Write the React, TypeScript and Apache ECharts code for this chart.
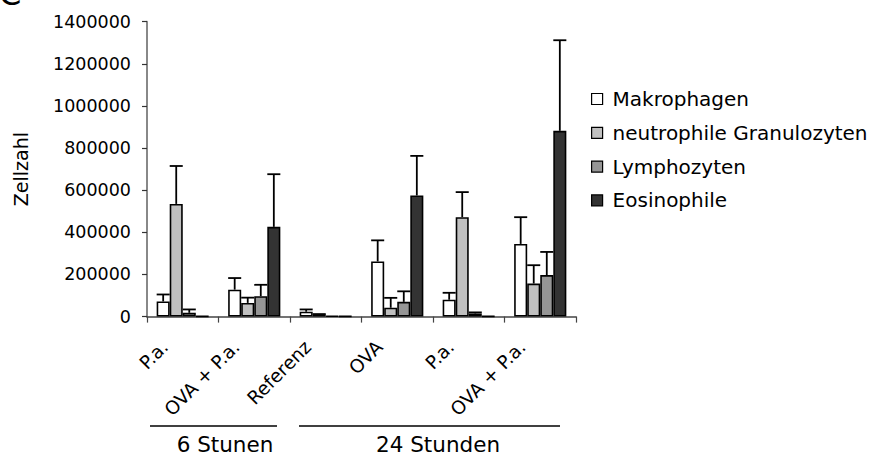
import React, { useEffect, useRef } from "react";
import * as echarts from "echarts";

// Treatment groups along the x axis (6 h: first two, 24 h: the rest)
const categories = ["P.a.", "OVA + P.a.", "Referenz", "OVA", "P.a.", "OVA + P.a."];

// Cell types shown as grouped bars
const seriesNames = ["Makrophagen", "neutrophile Granulozyten", "Lymphozyten", "Eosinophile"];
const seriesColors = ["#ffffff", "#c0c0c0", "#969696", "#333333"];

// Mean cell counts per group
const makrophagen = [72000, 128000, 23000, 262000, 80000, 345000];
const neutrophile = [535000, 65000, 10000, 42000, 472000, 157000];
const lymphozyten = [18000, 97000, 3000, 70000, 15000, 197000];
const eosinophile = [2000, 426000, 2000, 575000, 2000, 882000];

// Upper error (SD) per group
const makrophagenErr = [33000, 55000, 11000, 100000, 33000, 127000];
const neutrophileErr = [180000, 25000, 2000, 47000, 119000, 87000];
const lymphozytenErr = [16000, 54000, 0, 50000, 5000, 110000];
const eosinophileErr = [0, 250000, 0, 188000, 0, 430000];

// Y axis ticks
const yMin = 0;
const yMax = 1400000;
const yStep = 200000;

// Time-point brackets below the axis
const groupLabels = ["6 Stunen", "24 Stunden"];

const FONT = "DejaVu Sans";
const BAR_CATEGORY_GAP = 0.27;

export default function App() {
  const ref = useRef<HTMLDivElement>(null);

  useEffect(() => {
    if (!ref.current) return;
    const chart = echarts.init(ref.current, null, { renderer: "svg" });

    const values = [makrophagen, neutrophile, lymphozyten, eosinophile];
    const errors = [makrophagenErr, neutrophileErr, lymphozytenErr, eosinophileErr];

    const errData: number[][] = [];
    values.forEach((arr, si) => {
      arr.forEach((v, ci) => {
        errData.push([ci, si, v, errors[si][ci]]);
      });
    });

    const barSeries = seriesNames.map((name, i) => ({
      name,
      type: "bar",
      data: values[i],
      barGap: "0%",
      barCategoryGap: `${BAR_CATEGORY_GAP * 100}%`,
      itemStyle: { color: seriesColors[i], borderColor: "#000", borderWidth: 1.6 },
      z: 2,
    }));

    const errSeries = {
      type: "custom",
      name: "SD",
      silent: true,
      data: errData,
      dimensions: ["cat", "series", "value", "err"],
      encode: { x: 0, y: 2 },
      z: 3,
      renderItem: (_params: any, api: any) => {
        const cat = api.value(0);
        const si = api.value(1);
        const v = api.value(2);
        const e = api.value(3);
        if (!e) return null;
        const band = api.size([1, 0])[0];
        const bw = (band * (1 - BAR_CATEGORY_GAP)) / seriesNames.length;
        const base = api.coord([cat, v]);
        const top = api.coord([cat, v + e]);
        const x = base[0] + (si - (seriesNames.length - 1) / 2) * bw;
        const half = bw / 2;
        const style = { stroke: "#000", lineWidth: 1.8 };
        return {
          type: "group",
          children: [
            { type: "line", shape: { x1: x, y1: base[1], x2: x, y2: top[1] }, style },
            { type: "line", shape: { x1: x - half, y1: top[1], x2: x + half, y2: top[1] }, style },
          ],
        };
      },
    };

    chart.setOption({
      animation: false,
      backgroundColor: "#ffffff",
      textStyle: { fontFamily: FONT },
      grid: { left: 147, right: 299, top: 21.7, bottom: 139.4, containLabel: false },
      legend: {
        data: seriesNames,
        orient: "vertical",
        left: 591,
        top: 89,
        padding: 0,
        itemWidth: 11,
        itemHeight: 11,
        itemGap: 13.8,
        icon: "rect",
        selectedMode: false,
        itemStyle: { borderColor: "#000", borderWidth: 1.2 },
        textStyle: {
          fontFamily: FONT,
          fontSize: 20,
          lineHeight: 20,
          color: "#000",
          padding: [0, 0, 0, 5],
        },
      },
      xAxis: {
        type: "category",
        data: categories,
        axisLine: { show: true, lineStyle: { color: "#444", width: 1.5 } },
        axisTick: { show: true, length: 6, lineStyle: { color: "#444", width: 1.2 } },
        axisLabel: {
          rotate: 45,
          margin: 24,
          verticalAlign: "bottom",
          padding: [0, 15, 1, 0],
          fontFamily: FONT,
          fontSize: 18.5,
          color: "#000",
          interval: 0,
        },
      },
      yAxis: {
        type: "value",
        min: yMin,
        max: yMax,
        interval: yStep,
        name: "Zellzahl",
        nameLocation: "middle",
        nameGap: 117,
        nameRotate: 90,
        nameTextStyle: { fontFamily: FONT, fontSize: 19, color: "#000" },
        splitLine: { show: false },
        axisLine: { show: true, lineStyle: { color: "#888", width: 2 } },
        axisTick: { show: true, length: 5, lineStyle: { color: "#333", width: 1.2 } },
        axisLabel: {
          margin: 16,
          fontFamily: FONT,
          fontSize: 17.5,
          color: "#000",
          formatter: (v: number) => String(v),
        },
      },
      graphic: [
        {
          type: "text",
          left: -1,
          top: -22,
          style: { text: "C", font: `32px ${FONT}`, fill: "#000" },
        },
        {
          type: "line",
          shape: { x1: 150, y1: 426, x2: 277, y2: 426 },
          style: { stroke: "#000", lineWidth: 1.6 },
        },
        {
          type: "line",
          shape: { x1: 299, y1: 426, x2: 560, y2: 426 },
          style: { stroke: "#000", lineWidth: 1.6 },
        },
        {
          type: "text",
          x: 225,
          y: 444,
          style: {
            text: groupLabels[0],
            font: `21.5px ${FONT}`,
            fill: "#000",
            align: "center",
            verticalAlign: "middle",
          },
        },
        {
          type: "text",
          x: 438,
          y: 444,
          style: {
            text: groupLabels[1],
            font: `21.5px ${FONT}`,
            fill: "#000",
            align: "center",
            verticalAlign: "middle",
          },
        },
      ],
      series: [...barSeries, errSeries],
    });

    return () => chart.dispose();
  }, []);

  return (
    <div
      ref={ref}
      style={{ position: "absolute", left: 0, top: 0, width: 875, height: 456 }}
    />
  );
}
